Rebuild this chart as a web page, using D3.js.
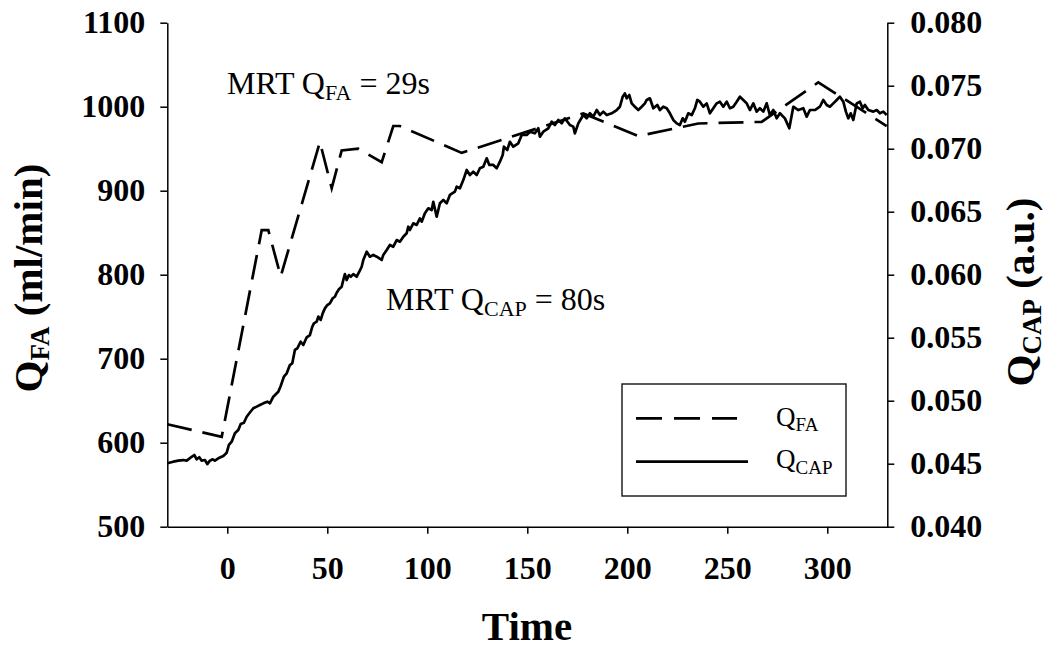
<!DOCTYPE html>
<html><head><meta charset="utf-8">
<script src="https://cdn.jsdelivr.net/npm/d3@7"></script>
<style>
body{margin:0;background:#fff;}
svg{display:block;font-family:"Liberation Serif","Times New Roman",serif;}
</style></head><body>
<svg id="chart" width="1053" height="648"></svg>
<script>
// ---- data ----
const xTicks = [0, 50, 100, 150, 200, 250, 300];
const leftTicks = [500, 600, 700, 800, 900, 1000, 1100];
const rightTicks = [0.040, 0.045, 0.050, 0.055, 0.060, 0.065, 0.070, 0.075, 0.080];

// Q_FA (ml/min), left axis, dashed
const faTime  = [-30, -2.8, 17.2, 20.5, 26.7, 46.3, 52.2, 57.2, 65.5, 77.2, 83, 86.3, 117.2, 178, 205.5, 235.5, 267.2, 295.5, 329.7];
const faValue = [622, 607, 853, 853, 798, 958, 903, 948, 950, 934, 977, 977, 945, 992, 965, 980, 982, 1029, 977];

// Q_CAP (a.u.), right axis, solid
const capTime = [-30,-27,-24.5,-22,-20.3,-17.8,-16.5,-15.3,-14,-12.8,-11.2,-10,-8.7,-7.3,-6.2,-4.5,-2,-0.3,0.8,2.2,3.8,5.5,6.7,8.3,9.7,11,13,14.7,16.3,18,20,21.3,23,25.5,26.7,28.3,29.7,31.3,32.5,33.8,35,36.7,38,39.7,41.3,42.5,43.3,44.7,45.5,46.7,47.7,48.8,50,51.3,52.7,53.8,54.7,55.8,57.2,58,58.8,59.7,60.8,61.8,63,64.7,66,67.2,68,69.7,71.3,73,74.7,77.2,78,79.7,81.3,83,84.7,86.3,88,89.7,90.5,91.3,93,94.7,96.3,97.2,98.8,100.5,102.2,103,104.7,106.3,108,109.7,111.3,113.8,114.7,116.3,118,119.7,121.3,123,124.7,126.3,128,129.7,131,133,134.7,136.3,137.7,138.3,140,141.3,143,145.5,147.2,149.7,151.3,153.8,155.5,156.3,158,160.5,162.2,163.8,165.5,167.2,168.8,171.3,173,173.8,175.5,178,179.7,181.3,183,184.7,186.3,188,189.7,192.2,194.7,196.3,197.7,198.8,199.7,201,202.2,203.8,205.5,207.2,208.8,209.7,211.3,213,215,216.3,218,219.7,221.3,223,224.7,226.3,227.7,228.8,230.5,232.2,233.8,235,236.3,238,239.7,241.3,243,244.7,246.3,248,249.7,251.3,253,254.7,256.3,258,259.7,261.3,263,264.7,266.3,268,269.7,271.3,273,274.7,276.3,278.8,281,283,285.5,288,289.7,291.3,293.8,296.3,298,299.7,301.3,303,304.7,306.3,308,309.3,310.5,311.7,313,314.7,316.3,317.7,318.8,320.5,323,324.7,326.3,328,329.7];
const capValue = [0.04503,0.04516,0.04524,0.04529,0.04524,0.04555,0.04569,0.04535,0.04551,0.04524,0.04529,0.04497,0.04524,0.04535,0.04524,0.04543,0.04561,0.04587,0.04649,0.04675,0.04741,0.04767,0.04815,0.04825,0.04873,0.04900,0.04940,0.04953,0.04966,0.04979,0.04992,0.04979,0.05032,0.05071,0.05117,0.05191,0.05217,0.05283,0.05297,0.05403,0.05416,0.05468,0.05442,0.05503,0.05521,0.05587,0.05614,0.05627,0.05667,0.05641,0.05693,0.05733,0.05759,0.05773,0.05813,0.05825,0.05857,0.05884,0.05905,0.05958,0.06005,0.05958,0.05997,0.05984,0.06005,0.05984,0.06024,0.06063,0.06117,0.06183,0.06143,0.06157,0.06143,0.06117,0.06157,0.06196,0.06236,0.06222,0.06275,0.06262,0.06301,0.06329,0.06381,0.06355,0.06408,0.06395,0.06447,0.06421,0.06487,0.06527,0.06513,0.06579,0.06460,0.06567,0.06593,0.06567,0.06633,0.06659,0.06699,0.06686,0.06751,0.06831,0.06791,0.06817,0.06791,0.06845,0.06857,0.06924,0.06871,0.06871,0.06845,0.06897,0.06950,0.07016,0.06990,0.07055,0.07016,0.07043,0.07109,0.07109,0.07135,0.07122,0.07162,0.07095,0.07135,0.07162,0.07214,0.07188,0.07228,0.07201,0.07241,0.07188,0.07175,0.07122,0.07201,0.07267,0.07241,0.07281,0.07254,0.07307,0.07267,0.07294,0.07267,0.07281,0.07307,0.07333,0.07413,0.07439,0.07400,0.07426,0.07360,0.07333,0.07307,0.07333,0.07360,0.07387,0.07400,0.07321,0.07347,0.07307,0.07333,0.07321,0.07281,0.07228,0.07201,0.07188,0.07241,0.07214,0.07281,0.07267,0.07321,0.07387,0.07373,0.07333,0.07360,0.07281,0.07321,0.07360,0.07373,0.07333,0.07373,0.07321,0.07333,0.07373,0.07413,0.07387,0.07360,0.07307,0.07360,0.07294,0.07321,0.07294,0.07360,0.07267,0.07307,0.07241,0.07281,0.07241,0.07162,0.07333,0.07307,0.07321,0.07254,0.07307,0.07307,0.07333,0.07387,0.07347,0.07333,0.07360,0.07387,0.07413,0.07373,0.07294,0.07241,0.07281,0.07228,0.07360,0.07373,0.07321,0.07347,0.07307,0.07294,0.07307,0.07281,0.07294,0.07267];

// ---- drawing ----
const svg = d3.select("#chart");
const FONT = '"Liberation Serif","Times New Roman",serif';

const x  = d3.scaleLinear().domain([-30, 330]).range([167.3, 887.3]);
const yL = d3.scaleLinear().domain([500, 1100]).range([526.7, 22.7]);
const yR = d3.scaleLinear().domain([0.040, 0.080]).range([526.7, 22.7]);

function styleAxis(g){
  g.attr("font-family", FONT);
  g.selectAll("path.domain").attr("stroke","#000").attr("stroke-width",1.5);
  g.selectAll(".tick line").attr("stroke","#000").attr("stroke-width",1.5);
  g.selectAll(".tick text").attr("fill","#000").style("font-family",FONT)
    .style("font-size","32px").style("font-weight","bold");
}

svg.append("g").attr("transform","translate(167.3,0)")
  .call(d3.axisLeft(yL).tickValues(leftTicks).tickFormat(d3.format("d")).tickSize(7).tickSizeOuter(0).tickPadding(15))
  .call(styleAxis);
svg.append("g").attr("transform","translate(887.3,0)")
  .call(d3.axisRight(yR).tickValues(rightTicks).tickFormat(d3.format(".3f")).tickSize(7).tickSizeOuter(0).tickPadding(16))
  .call(styleAxis);
svg.append("g").attr("transform","translate(0,526.7)")
  .call(d3.axisBottom(x).tickValues(xTicks).tickFormat(d3.format("d")).tickSize(7).tickSizeOuter(0).tickPadding(23))
  .call(styleAxis);

// lines
const faData = faTime.map((t,i)=>({t, v: faValue[i]}));
const capData = capTime.map((t,i)=>({t, v: capValue[i]}));

svg.append("path").datum(faData)
  .attr("d", d3.line().x(d=>x(d.t)).y(d=>yL(d.v)))
  .attr("fill","none").attr("stroke","#000").attr("stroke-width",2.7)
  .attr("stroke-dasharray","25,11");

svg.append("path").datum(capData)
  .attr("d", d3.line().x(d=>x(d.t)).y(d=>yR(d.v)))
  .attr("fill","none").attr("stroke","#000").attr("stroke-width",2.7)
  .attr("stroke-linejoin","round");

// axis titles
function subText(sel, main, sub, rest, subSize, subDy){
  sel.append("tspan").text(main);
  sel.append("tspan").text(sub).style("font-size", subSize).attr("dy", subDy);
  if (rest) sel.append("tspan").text(rest).attr("dy", -subDy);
}

const lt = svg.append("text").attr("transform","translate(42,278) rotate(-90)")
  .attr("text-anchor","middle").style("font-family",FONT).style("font-size","41px").style("font-weight","bold");
subText(lt, "Q", "FA", " (ml/min)", "27px", 7);

const rt = svg.append("text").attr("transform","translate(1034,292) rotate(-90)")
  .attr("text-anchor","middle").style("font-family",FONT).style("font-size","41px").style("font-weight","bold");
subText(rt, "Q", "CAP", " (a.u.)", "27px", 7);

svg.append("text").attr("x",527).attr("y",640).attr("text-anchor","middle")
  .style("font-family",FONT).style("font-size","41px").style("font-weight","bold").text("Time");

// annotations
const a1 = svg.append("text").attr("x",227).attr("y",94).style("font-family",FONT).style("font-size","32px");
subText(a1, "MRT Q", "FA", " = 29s", "22px", 6);
const a2 = svg.append("text").attr("x",386).attr("y",310).style("font-family",FONT).style("font-size","32px");
subText(a2, "MRT Q", "CAP", " = 80s", "22px", 6);

// legend
svg.append("rect").attr("x",622).attr("y",384).attr("width",224).attr("height",112)
  .attr("fill","#fff").attr("stroke","#222").attr("stroke-width",1.5);
svg.append("line").attr("x1",636).attr("x2",737).attr("y1",418.3).attr("y2",418.3)
  .attr("stroke","#000").attr("stroke-width",2.7).attr("stroke-dasharray","26,12");
svg.append("line").attr("x1",636).attr("x2",748).attr("y1",461.7).attr("y2",461.7)
  .attr("stroke","#000").attr("stroke-width",2.8);
const l1 = svg.append("text").attr("x",776).attr("y",426).style("font-family",FONT).style("font-size","27px");
subText(l1, "Q", "FA", null, "19px", 5);
const l2 = svg.append("text").attr("x",776).attr("y",468).style("font-family",FONT).style("font-size","27px");
subText(l2, "Q", "CAP", null, "19px", 6);
</script>
</body></html>
